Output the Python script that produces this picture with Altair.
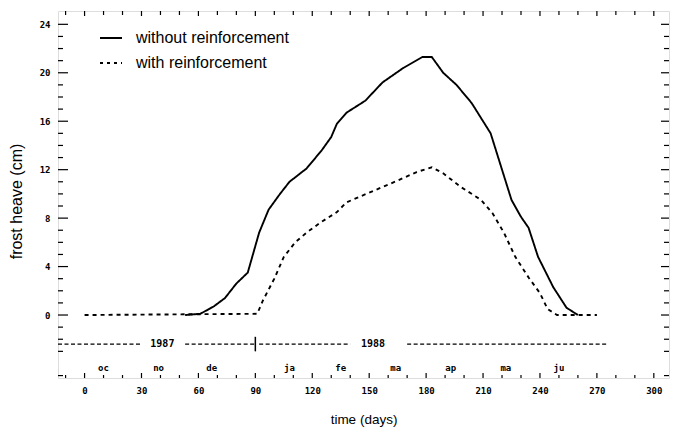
import altair as alt
import pandas as pd

# ---- data ----
days_without = [53, 61, 68, 74, 80, 86, 92, 97, 103, 108, 117, 125, 130, 133, 138, 148, 157, 168, 178, 183,
                189, 196, 204, 208, 214, 220, 225, 230, 234, 239, 247, 254, 260]
heave_without = [0.0, 0.1, 0.7, 1.4, 2.6, 3.5, 6.8, 8.7, 10.0, 11.0, 12.1, 13.6, 14.7, 15.8, 16.7, 17.7, 19.2, 20.4, 21.3, 21.3,
                 20.0, 19.0, 17.5, 16.5, 15.0, 12.0, 9.5, 8.1, 7.2, 4.8, 2.3, 0.6, 0.0]

days_with = [0, 91, 94, 100, 105, 111, 117, 124, 133, 138, 150, 165, 175, 183, 189, 198, 209, 215, 221, 227,
             234, 240, 244, 249, 270]
heave_with = [0.0, 0.1, 1.2, 3.0, 4.8, 6.0, 6.8, 7.6, 8.5, 9.3, 10.1, 11.1, 11.8, 12.2, 11.7, 10.6, 9.5, 8.4, 6.8, 4.8,
              3.1, 1.8, 0.5, 0.0, 0.0]

series_names = ["without reinforcement", "with reinforcement"]

x_tick_labels = [0, 30, 60, 90, 120, 150, 180, 210, 240, 270, 300]
y_tick_labels = [0, 4, 8, 12, 16, 20, 24]

months = ["oc", "no", "de", "ja", "fe", "ma", "ap", "ma", "ju"]
month_days = [10, 39, 67, 108, 135, 164, 193, 222, 250]

years = ["1987", "1988"]
year_days = [41, 152]
year_seg_start = [-14, 53, 92, 170]
year_seg_end = [30, 90, 140, 275]
year_split_day = [90]

x_domain = [-14, 308]
y_domain = [-5.2, 25.1]

W, H = 611, 367
FONT = "Liberation Sans"
MONO = "DejaVu Sans Mono"

# ---- tables ----
df_lines = pd.concat([
    pd.DataFrame({"day": days_without, "heave": heave_without, "series": series_names[0], "o": range(len(days_without))}),
    pd.DataFrame({"day": days_with, "heave": heave_with, "series": series_names[1], "o": range(len(days_with))}),
])

x_scale = alt.Scale(domain=x_domain, nice=False, zero=False)
y_scale = alt.Scale(domain=y_domain, nice=False, zero=False)

x_axis = alt.Axis(values=x_tick_labels, ticks=False, domain=False, grid=False, labelFont=MONO,
                  labelFontWeight="bold", labelFontSize=9, labelColor="black", labelPadding=8,
                  title="time (days)", titleFont=FONT, titleFontSize=13.5, titleFontWeight="normal",
                  titleColor="black", titlePadding=17)
y_axis = alt.Axis(values=y_tick_labels, ticks=False, domain=False, grid=False, labelFont=MONO,
                  labelFontWeight="bold", labelFontSize=9, labelColor="black", labelPadding=8,
                  title="frost heave (cm)", titleFont=FONT, titleFontSize=16, titleFontWeight="normal",
                  titleColor="black", titleBaseline="middle", titleX=-42, titleY=190)

base_x = alt.X("day:Q", scale=x_scale, axis=x_axis)
base_y = alt.Y("heave:Q", scale=y_scale, axis=y_axis)

lines = alt.Chart(df_lines).mark_line(color="black", strokeWidth=1.9).encode(
    x=base_x, y=base_y, order="o:Q",
    strokeDash=alt.StrokeDash("series:N", scale=alt.Scale(domain=series_names, range=[[1, 0], [4, 4]]), legend=None),
    detail="series:N",
)

# ---- inward ticks ----
y_major = pd.DataFrame({"heave": y_tick_labels})
y_minor = pd.DataFrame({"heave": [v for v in range(-5, 25) if v % 4 != 0]})
x_major = pd.DataFrame({"day": list(range(0, 301, 30))})
x_minor = pd.DataFrame({"day": [v for v in range(-10, 308, 10) if v % 30 != 0]})

def yticks(df, length, right=False):
    x0 = W if right else 0
    x1 = W - length if right else length
    return alt.Chart(df).mark_rule(color="black", strokeWidth=1.2).encode(
        y=alt.Y("heave:Q", scale=y_scale), x=alt.value(x0), x2=alt.value(x1))

def xticks(df, length, top=False):
    y0 = 0 if top else H
    y1 = length if top else H - length
    return alt.Chart(df).mark_rule(color="black", strokeWidth=1.2).encode(
        x=alt.X("day:Q", scale=x_scale), y=alt.value(y0), y2=alt.value(y1))

ticks = [
    yticks(y_major, 10), yticks(y_minor, 5),
    yticks(y_major, 8, right=True), yticks(y_minor, 5, right=True),
    xticks(x_major, 5), xticks(x_minor, 3),
    xticks(x_major, 5, top=True), xticks(x_minor, 4, top=True),
]

# ---- year band ----
df_seg = pd.DataFrame({"day": year_seg_start, "day2": year_seg_end, "heave": [-2.4] * len(year_seg_start)})
year_rules = alt.Chart(df_seg).mark_rule(color="black", strokeWidth=1.2, strokeDash=[4, 2.5]).encode(
    x=alt.X("day:Q", scale=x_scale), x2="day2:Q", y=alt.Y("heave:Q", scale=y_scale))
df_split = pd.DataFrame({"day": year_split_day, "lo": [-3.0], "hi": [-1.8]})
year_split = alt.Chart(df_split).mark_rule(color="black", strokeWidth=1.5).encode(
    x=alt.X("day:Q", scale=x_scale), y=alt.Y("lo:Q", scale=y_scale), y2="hi:Q")
df_years = pd.DataFrame({"day": year_days, "heave": [-2.4] * 2, "label": years})
year_text = alt.Chart(df_years).mark_text(font=MONO, fontWeight="bold", fontSize=10, color="black").encode(
    x=alt.X("day:Q", scale=x_scale), y=alt.Y("heave:Q", scale=y_scale), text="label:N")

df_months = pd.DataFrame({"day": month_days, "heave": [-4.4] * len(months), "label": months})
month_text = alt.Chart(df_months).mark_text(font=MONO, fontWeight="bold", fontSize=9, color="black").encode(
    x=alt.X("day:Q", scale=x_scale), y=alt.Y("heave:Q", scale=y_scale), text="label:N")

# ---- legend (drawn inside plot) ----
df_leg = pd.DataFrame({"label": series_names})
leg_solid = alt.Chart(df_leg).mark_rule(color="black", strokeWidth=1.9).encode(
    x=alt.value(42), x2=alt.value(64), y=alt.value(27))
leg_dash = alt.Chart(df_leg).mark_rule(color="black", strokeWidth=1.9, strokeDash=[3, 4]).encode(
    x=alt.value(42), x2=alt.value(64), y=alt.value(52))
leg_t1 = alt.Chart(pd.DataFrame({"label": [series_names[0]]})).mark_text(
    font=FONT, fontSize=16, align="left", baseline="middle", color="black").encode(
    x=alt.value(78), y=alt.value(27), text="label:N")
leg_t2 = alt.Chart(pd.DataFrame({"label": [series_names[1]]})).mark_text(
    font=FONT, fontSize=16, align="left", baseline="middle", color="black").encode(
    x=alt.value(78), y=alt.value(52), text="label:N")

chart = alt.layer(
    lines, *ticks, year_rules, year_split, year_text, month_text, leg_solid, leg_dash, leg_t1, leg_t2
).properties(
    width=W, height=H,
    padding={"left": 58, "top": 11, "right": 5, "bottom": 55},
    autosize=alt.AutoSizeParams(type="none"),
).configure_view(stroke="black", strokeWidth=1.5).configure(background="white")

chart.save("out.html", embed_options={"renderer": "svg", "actions": False})
